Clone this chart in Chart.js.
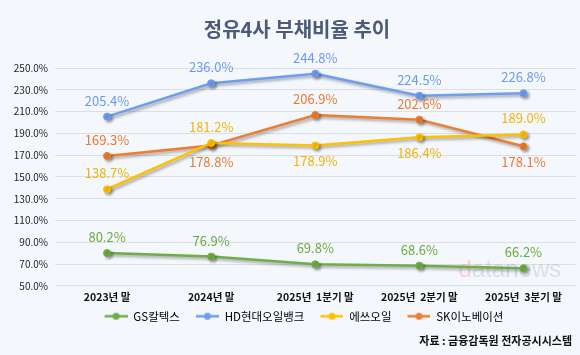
<!DOCTYPE html>
<html><head><meta charset="utf-8">
<script src="https://cdn.jsdelivr.net/npm/chart.js@4"></script>
<style>
html,body{margin:0;padding:0;background:#f4f7fc;}
#wrap{width:580px;height:355px;position:relative;}
</style></head>
<body><div id="wrap"><canvas id="c" width="580" height="355"></canvas></div>
<script>
const categories = ['2023년 말', '2024년 말', '2025년  1분기 말', '2025년  2분기 말', '2025년  3분기 말'];
const gsCaltex = [80.2, 76.9, 69.8, 68.6, 66.2];
const hdOilbank = [205.4, 236.0, 244.8, 224.5, 226.8];
const sOil = [138.7, 181.2, 178.9, 186.4, 189.0];
const skInnovation = [169.3, 178.8, 206.9, 202.6, 178.1];
const seriesNames = ['GS칼텍스', 'HD현대오일뱅크', '에쓰오일', 'SK이노베이션'];
const yTickMin = 50, yTickMax = 250, yTickStep = 20;
const titleText = '정유4사 부채비율 추이';
const sourceText = '자료 : 금융감독원 전자공시시스템';

const FONT = "'Noto Sans CJK KR','Noto Sans',sans-serif";

function legendIcon(color) {
  const c = document.createElement('canvas');
  c.width = 37; c.height = 9;
  const x = c.getContext('2d');
  x.strokeStyle = color; x.lineWidth = 2.5;
  x.beginPath(); x.moveTo(14, 4.5); x.lineTo(37, 4.5); x.stroke();
  x.fillStyle = color;
  x.beginPath(); x.arc(25.5, 4.5, 3.5, 0, Math.PI * 2); x.fill();
  return c;
}

function ds(label, data, line, labelColor, pos) {
  return {
    label, data,
    borderColor: line, backgroundColor: line,
    pointBackgroundColor: line, pointBorderColor: line, pointBorderWidth: 1,
    borderWidth: 2.5, pointRadius: 3.5, pointHoverRadius: 3.5,
    tension: 0, labelColor, labelPos: pos
  };
}

const shadowPlugin = {
  id: 'shadow',
  beforeDatasetDraw(chart) {
    const ctx = chart.ctx; ctx.save();
    ctx.shadowColor = 'rgba(0,0,0,0.35)';
    ctx.shadowBlur = 3; ctx.shadowOffsetX = 2; ctx.shadowOffsetY = 2;
  },
  afterDatasetDraw(chart) { chart.ctx.restore(); }
};

const labelPlugin = {
  id: 'vlabels',
  afterDatasetsDraw(chart) {
    const ctx = chart.ctx;
    ctx.save();
    ctx.font = "13px " + FONT;
    ctx.textAlign = 'center'; ctx.textBaseline = 'middle';
    chart.data.datasets.forEach((d, i) => {
      const meta = chart.getDatasetMeta(i);
      meta.data.forEach((p, j) => {
        const up = d.labelPos[j] === 'a';
        ctx.fillStyle = d.labelColor;
        ctx.fillText(d.data[j].toFixed(1) + '%', p.x, p.y + (up ? -16 : 16));
      });
    });
    ctx.restore();
  }
};

const extrasPlugin = {
  id: 'extras',
  beforeDatasetsDraw(chart) {
    const ctx = chart.ctx;
    ctx.save();
    ctx.font = "24px 'Liberation Sans', Arial, sans-serif";
    ctx.textBaseline = 'alphabetic'; ctx.textAlign = 'left';
    const parts = [['d', 'rgba(225,90,90,0.22)'], ['ata', 'rgba(140,140,140,0.22)'], ['n', 'rgba(70,120,220,0.22)'], ['ews', 'rgba(140,140,140,0.22)']];
    let x = chart.chartArea.right - 117;
    const y = chart.chartArea.bottom - 9;
    parts.forEach(([t, c]) => { ctx.fillStyle = c; ctx.fillText(t, x, y); x += ctx.measureText(t).width; });
    ctx.restore();
  },
  afterDraw(chart) {
    const ctx = chart.ctx;
    ctx.save();
    ctx.font = "bold 11px " + FONT;
    ctx.fillStyle = '#111';
    ctx.textAlign = 'right'; ctx.textBaseline = 'middle';
    ctx.fillText(sourceText, chart.width - 8, chart.height - 14);
    ctx.restore();
  }
};

new Chart(document.getElementById('c'), {
  type: 'line',
  data: {
    labels: categories,
    datasets: [
      ds(seriesNames[0], gsCaltex, '#70ad47', '#6aab40', ['a','a','a','a','a']),
      ds(seriesNames[1], hdOilbank, '#6d9ef0', '#6a9bf2', ['a','a','a','a','a']),
      ds(seriesNames[2], sOil, '#ffc000', '#f2b30a', ['a','a','b','b','a']),
      ds(seriesNames[3], skInnovation, '#ed7d31', '#ea7a33', ['a','b','a','a','b'])
    ]
  },
  options: {
    responsive: false,
    animation: false,
    events: [],
    layout: { padding: { left: 14, right: 0, top: 0, bottom: 23 } },
    plugins: {
      title: {
        display: true, text: titleText, color: '#4d5b79',
        font: { family: FONT, size: 20, weight: 'bold' },
        padding: { top: 17, bottom: 27 }
      },
      legend: {
        position: 'bottom',
        labels: {
          usePointStyle: true, pointStyleWidth: 37, boxHeight: 9,
          padding: 2,
          color: '#595959',
          font: { family: FONT, size: 11.5 },
          generateLabels(chart) {
            return chart.data.datasets.map((d, i) => ({
              text: d.label, fillStyle: d.borderColor, strokeStyle: d.borderColor,
              lineWidth: 0, pointStyle: legendIcon(d.borderColor), datasetIndex: i, hidden: false
            }));
          }
        }
      },
      tooltip: { enabled: false }
    },
    scales: {
      x: {
        offset: true,
        grid: { display: false, drawTicks: false },
        border: { display: false },
        ticks: {
          autoSkip: false, maxRotation: 0, padding: 5, color: '#111',
          font: { family: FONT, size: 10.5, weight: 'bold' }
        }
      },
      y: {
        min: yTickMin, max: yTickMax,
        grid: { color: '#dcdfe4', lineWidth: 1, drawTicks: false },
        border: { display: false },
        afterFit(scale) { scale.width = 41; },
        ticks: {
          stepSize: yTickStep, padding: 7, color: '#222',
          font: { family: FONT, size: 10 },
          callback: v => v.toFixed(1) + '%'
        }
      }
    }
  },
  plugins: [shadowPlugin, labelPlugin, extrasPlugin]
});
</script></body></html>
